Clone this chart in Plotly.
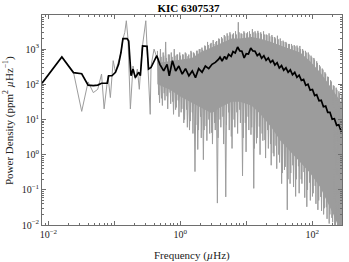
import plotly.graph_objects as go

# ---------------- data ----------------
# low-frequency raw PSD points (individually resolvable)
gray_f = [0.008, 0.016, 0.024, 0.032, 0.040, 0.048, 0.056, 0.064, 0.070, 0.080,
          0.087, 0.096, 0.104, 0.116, 0.126, 0.135, 0.144, 0.152, 0.161, 0.175,
          0.192, 0.208, 0.223, 0.239, 0.263, 0.30, 0.32, 0.35, 0.36, 0.40, 0.45, 0.50]
gray_p = [107, 600, 220, 17, 117, 58, 72, 195, 20, 175,
          42, 470, 220, 430, 800, 1950, 3000, 6400, 1950, 20,
          330, 140, 270, 72, 1000, 6400, 650, 14, 330, 1000, 520, 175]

# dense part of raw PSD: solid core band (upper / lower edges)
band_f = [0.45, 0.7, 1.0, 1.5, 2.0, 3.0, 4.0, 6.0, 8.0, 12, 16, 24, 33, 46, 66, 93,
          132, 167, 210, 250, 285]
band_upper = [400, 450, 500, 560, 800, 1100, 1400, 2000, 2000, 2200, 2000, 1600, 1260,
              1000, 800, 450, 220, 120, 63, 40, 28]
band_lower = [100, 70, 45, 30, 22, 15, 22, 32, 32, 25, 15, 6, 2.5, 1.2, 0.6, 0.3,
              0.12, 0.05, 0.02, 0.009, 0.009]

# dense part of raw PSD: deep spike tips (alternating up / down)
spike_f = [0.45, 0.47, 0.50, 0.52, 0.55, 0.57, 0.60, 0.63, 0.66, 0.70,
           0.73, 0.77, 0.81, 0.85, 0.89, 0.93, 0.98, 1.03, 1.08, 1.13,
           1.19, 1.25, 1.31, 1.38, 1.45, 1.52, 1.59, 1.67, 1.76, 1.84,
           1.94, 2.03, 2.13, 2.24, 2.35, 2.47, 2.59, 2.72, 2.86, 3.00,
           3.15, 3.31, 3.47, 3.65, 3.83, 4.02, 4.22, 4.43, 4.65, 4.89,
           5.13, 5.39, 5.66, 5.94, 6.24, 6.55, 6.88, 7.22, 7.58, 7.96,
           8.36, 8.78, 9.22, 9.68, 10.2, 10.7, 11.2, 11.8, 12.4, 13.0,
           13.6, 14.3, 15.0, 15.8, 16.6, 17.4, 18.3, 19.2, 20.1, 21.1,
           22.2, 23.3, 24.5, 25.7, 27.0, 28.3, 29.7, 31.2, 32.8, 34.4,
           36.2, 38.0, 39.9, 41.9, 44.0, 46.2, 48.5, 50.9, 53.4, 56.1,
           58.9, 61.9, 65.0, 68.2, 71.6, 75.2, 79.0, 82.9, 87.1, 91.4,
           96.0, 101, 106, 111, 117, 122, 129, 135, 142, 149,
           156, 164, 172, 181, 190, 199, 209, 220, 231, 242,
           254, 267, 280]
spike_p = [890, 50, 1000, 40, 800, 56, 1600, 46, 700, 58,
           800, 32, 1000, 19, 700, 35, 800, 16, 700, 8,
           800, 19, 630, 5, 890, 16, 800, 0.33, 890, 1.4,
           1000, 12, 1100, 0.72, 1260, 6.5, 1600, 10, 1400, 4.2,
           1800, 8, 1600, 0.042, 2000, 10, 2200, 12, 2500, 0.063,
           2800, 16, 3000, 3.3, 2600, 10, 3200, 16, 5800, 19,
           2800, 0.25, 3200, 8, 2800, 12, 3200, 3.7, 3700, 0.11,
           3200, 2.1, 3300, 6.3, 3000, 4, 3200, 2.6, 2600, 5,
           2800, 2, 2500, 1.1, 2200, 1.8, 2400, 1.0, 2000, 0.15,
           1740, 0.37, 1600, 0.027, 1400, 0.15, 1400, 0.5, 1300, 0.065,
           1260, 0.47, 1230, 0.2, 1000, 0.32, 890, 0.033, 800, 0.16,
           650, 0.065, 560, 0.13, 450, 0.027, 350, 0.063, 280, 0.02,
           220, 0.032, 165, 0.011, 130, 0.016, 93, 0.008, 80, 0.008,
           63, 0.008, 50]

# dense part of raw PSD: intermediate spikes (alternating up / down)
spike2_f = [0.46, 0.485, 0.51, 0.535, 0.56, 0.585, 0.615, 0.645, 0.68, 0.715,
            0.75, 0.79, 0.83, 0.87, 0.91, 0.955, 1.005, 1.055, 1.105, 1.16,
            1.22, 1.28, 1.345, 1.415, 1.485, 1.555, 1.63, 1.715, 1.80, 1.89,
            1.985, 2.08, 2.185, 2.295, 2.41, 2.53, 2.655, 2.79, 2.93, 3.075,
            3.23, 3.39, 3.56, 3.74, 3.925, 4.12, 4.325, 4.54, 4.77, 5.01,
            5.26, 5.525, 5.80, 6.09, 6.395, 6.715, 7.05, 7.40, 7.77, 8.16,
            8.57, 9.0, 9.45, 9.94, 10.45, 10.95, 11.5, 12.1, 12.7, 13.3,
            13.95, 14.65, 15.4, 16.2, 17.0, 17.85, 18.75, 19.65, 20.6, 21.65,
            22.75, 23.9, 25.1, 26.35, 27.65, 29.0, 30.45, 32.0, 33.6, 35.3,
            37.1, 38.95, 40.9, 42.95, 45.1, 47.35, 49.7, 52.15, 54.75, 57.5,
            60.4, 63.45, 66.6, 69.9, 73.4, 77.1, 80.95, 85.0, 89.25, 93.7,
            98.5, 103.5, 108.5, 114, 119.5, 125.5, 132, 138.5, 145.5, 152.5,
            160, 168, 176.5, 185.5, 194.5, 204, 214.5, 225.5, 236.5, 248,
            260.5, 273.5]
spike2_p = [560, 30, 600, 25, 650, 35, 560, 20, 700, 28,
            600, 14, 650, 22, 700, 12, 650, 20, 700, 10,
            750, 6, 700, 9, 800, 4, 750, 7, 900, 5,
            1000, 3, 950, 5, 1200, 2.5, 1300, 4, 1500, 2,
            1400, 5, 1700, 3, 1900, 6, 2000, 2, 2300, 7,
            2400, 5, 2600, 1.5, 2800, 6, 2600, 4, 3000, 8,
            2700, 3, 2900, 1.2, 3000, 5, 2700, 6, 3000, 1.5,
            2800, 3, 2900, 1.0, 2700, 2.5, 2600, 0.8, 2500, 1.5,
            2300, 0.5, 2200, 0.9, 2000, 0.4, 1900, 0.6, 1700, 0.3,
            1600, 0.45, 1450, 0.2, 1400, 0.3, 1250, 0.12, 1200, 0.2,
            1100, 0.08, 1000, 0.15, 900, 0.06, 800, 0.1, 700, 0.05,
            580, 0.08, 500, 0.04, 400, 0.05, 320, 0.025, 260, 0.03,
            200, 0.015, 160, 0.02, 120, 0.012, 90, 0.009, 70, 0.009,
            55, 0.009]

# smoothed PSD (black)
black_f = [0.008, 0.016, 0.024, 0.032, 0.040, 0.048, 0.056, 0.064, 0.072, 0.078,
           0.082, 0.092, 0.104, 0.116, 0.126, 0.135, 0.156, 0.165, 0.179, 0.192,
           0.208, 0.234, 0.248, 0.268, 0.313, 0.33, 0.36, 0.40, 0.44, 0.49,
           0.53, 0.56, 0.63, 0.68, 0.76, 0.85, 0.95, 1.07, 1.20, 1.35,
           1.52, 1.70, 1.90, 2.14, 2.40, 2.70, 3.03, 3.40, 3.82,
           4.0, 4.3, 4.7, 5.0, 5.4, 5.9, 6.3, 6.8, 7.4, 8.0,
           8.6, 9.3, 10.0, 10.8, 11.7, 12.6, 13.6, 14.7, 15.9, 17.1,
           18.5, 20.0, 21.6, 23.3, 25.2, 27.2, 29.4, 31.7, 34.3, 37.0,
           40.0, 43.2, 46.6, 50.3, 54.4, 58.7, 63.4, 68.5, 74.0, 79.9,
           86.3, 93.2, 101, 109, 117, 127, 137, 148, 160, 172,
           186, 201, 217, 235, 253, 274, 283]
black_p = [107, 600, 215, 200, 95, 92, 95, 107, 107, 107,
           175, 175, 220, 370, 800, 2000, 2000, 1700, 175, 270,
           155, 220, 175, 1230, 1200, 270, 300, 470, 650, 370,
           300, 240, 370, 175, 470, 240, 330, 195, 280, 175,
           240, 155, 280, 220, 330, 280, 370, 420, 520,
           590, 460, 620, 510, 710, 620, 850, 780, 1150, 890,
           870, 560, 740, 720, 1070, 890, 870, 650, 740, 550,
           650, 480, 560, 420, 480, 355, 410, 290, 340, 250,
           295, 220, 257, 186, 219, 158, 182, 129, 138, 93,
           100, 68, 71, 48, 51, 34, 35, 23, 24, 16,
           16, 10.2, 10.5, 6.8, 7.1, 4.7, 5.0]

x_tick_vals = [0.01, 0.1, 1, 10, 100]
x_tick_text = ["10<sup>−2</sup>", " ", "10<sup>0</sup>", " ", "10<sup>2</sup>"]
y_tick_vals = [0.01, 0.1, 1, 10, 100, 1000]
y_tick_text = ["10<sup>−2</sup>", "10<sup>−1</sup>", "10<sup>0</sup>",
               "10<sup>1</sup>", "10<sup>2</sup>", "10<sup>3</sup>"]

# ---------------- figure ----------------
GRAY = "#9c9c9c"
FONT = "Liberation Serif"

fig = go.Figure()

# solid core of the dense raw spectrum
fig.add_trace(go.Scatter(
    x=band_f + band_f[::-1], y=band_upper + band_lower[::-1],
    mode="lines", fill="toself", fillcolor=GRAY,
    line=dict(width=0, color=GRAY), hoverinfo="skip", showlegend=False))
# spikes of the dense raw spectrum
fig.add_trace(go.Scatter(x=spike2_f, y=spike2_p, mode="lines",
                         line=dict(color=GRAY, width=1), showlegend=False))
fig.add_trace(go.Scatter(x=spike_f, y=spike_p, mode="lines",
                         line=dict(color=GRAY, width=1), showlegend=False))
# low-frequency raw points
fig.add_trace(go.Scatter(x=gray_f, y=gray_p, mode="lines",
                         line=dict(color=GRAY, width=1), showlegend=False))
# smoothed spectrum
fig.add_trace(go.Scatter(x=black_f, y=black_p, mode="lines",
                         line=dict(color="black", width=1.7), showlegend=False))

minor_x = [m * 10 ** d for d in range(-3, 3) for m in range(2, 10)]
minor_y = [m * 10 ** d for d in range(-2, 4) for m in range(2, 10)]

axis_common = dict(type="log", showline=True, linecolor="#6e6e6e", linewidth=0.8,
                   mirror="ticks", ticks="inside", tickcolor="#6e6e6e", tickwidth=0.8,
                   ticklen=4, showgrid=False, zeroline=False,
                   tickfont=dict(family=FONT, size=10, color="#222"))

fig.update_xaxes(**axis_common, range=[-2.097, 2.452], tickmode="array",
                 tickvals=x_tick_vals, ticktext=x_tick_text,
                 minor=dict(tickmode="array", tickvals=minor_x, ticks="inside",
                            ticklen=2, tickcolor="#6e6e6e", showgrid=False))
fig.update_yaxes(**axis_common, range=[-2, 3.97], tickmode="array",
                 tickvals=y_tick_vals, ticktext=y_tick_text,
                 minor=dict(tickmode="array", tickvals=minor_y, ticks="inside",
                            ticklen=2, tickcolor="#6e6e6e", showgrid=False))

fig.update_layout(
    width=349, height=262,
    margin=dict(l=42, r=7, t=15, b=37, autoexpand=False),
    paper_bgcolor="white", plot_bgcolor="white",
    title=dict(text="<b>KIC 6307537</b>", x=0.54, xref="container",
               y=1 - 8 / 262, yref="container", xanchor="center", yanchor="middle",
               font=dict(family=FONT, size=11, color="black")),
    annotations=[
        dict(text="Frequency (<i>µ</i>Hz)", xref="paper", yref="paper",
             x=0.5, y=-30 / 210, xanchor="center", yanchor="middle",
             showarrow=False, font=dict(family=FONT, size=11, color="#222")),
        dict(text="Power Density (ppm<sup>2</sup> <i>µ</i>Hz<sup>−1</sup>)",
             xref="paper", yref="paper", x=-34 / 300, y=0.495, textangle=-90,
             xanchor="center", yanchor="middle", showarrow=False,
             font=dict(family=FONT, size=11, color="#222")),
    ],
)

fig.write_html("out.html", config={"displayModeBar": False},
               post_script="document.body.style.margin='0';document.body.style.padding='0';")
